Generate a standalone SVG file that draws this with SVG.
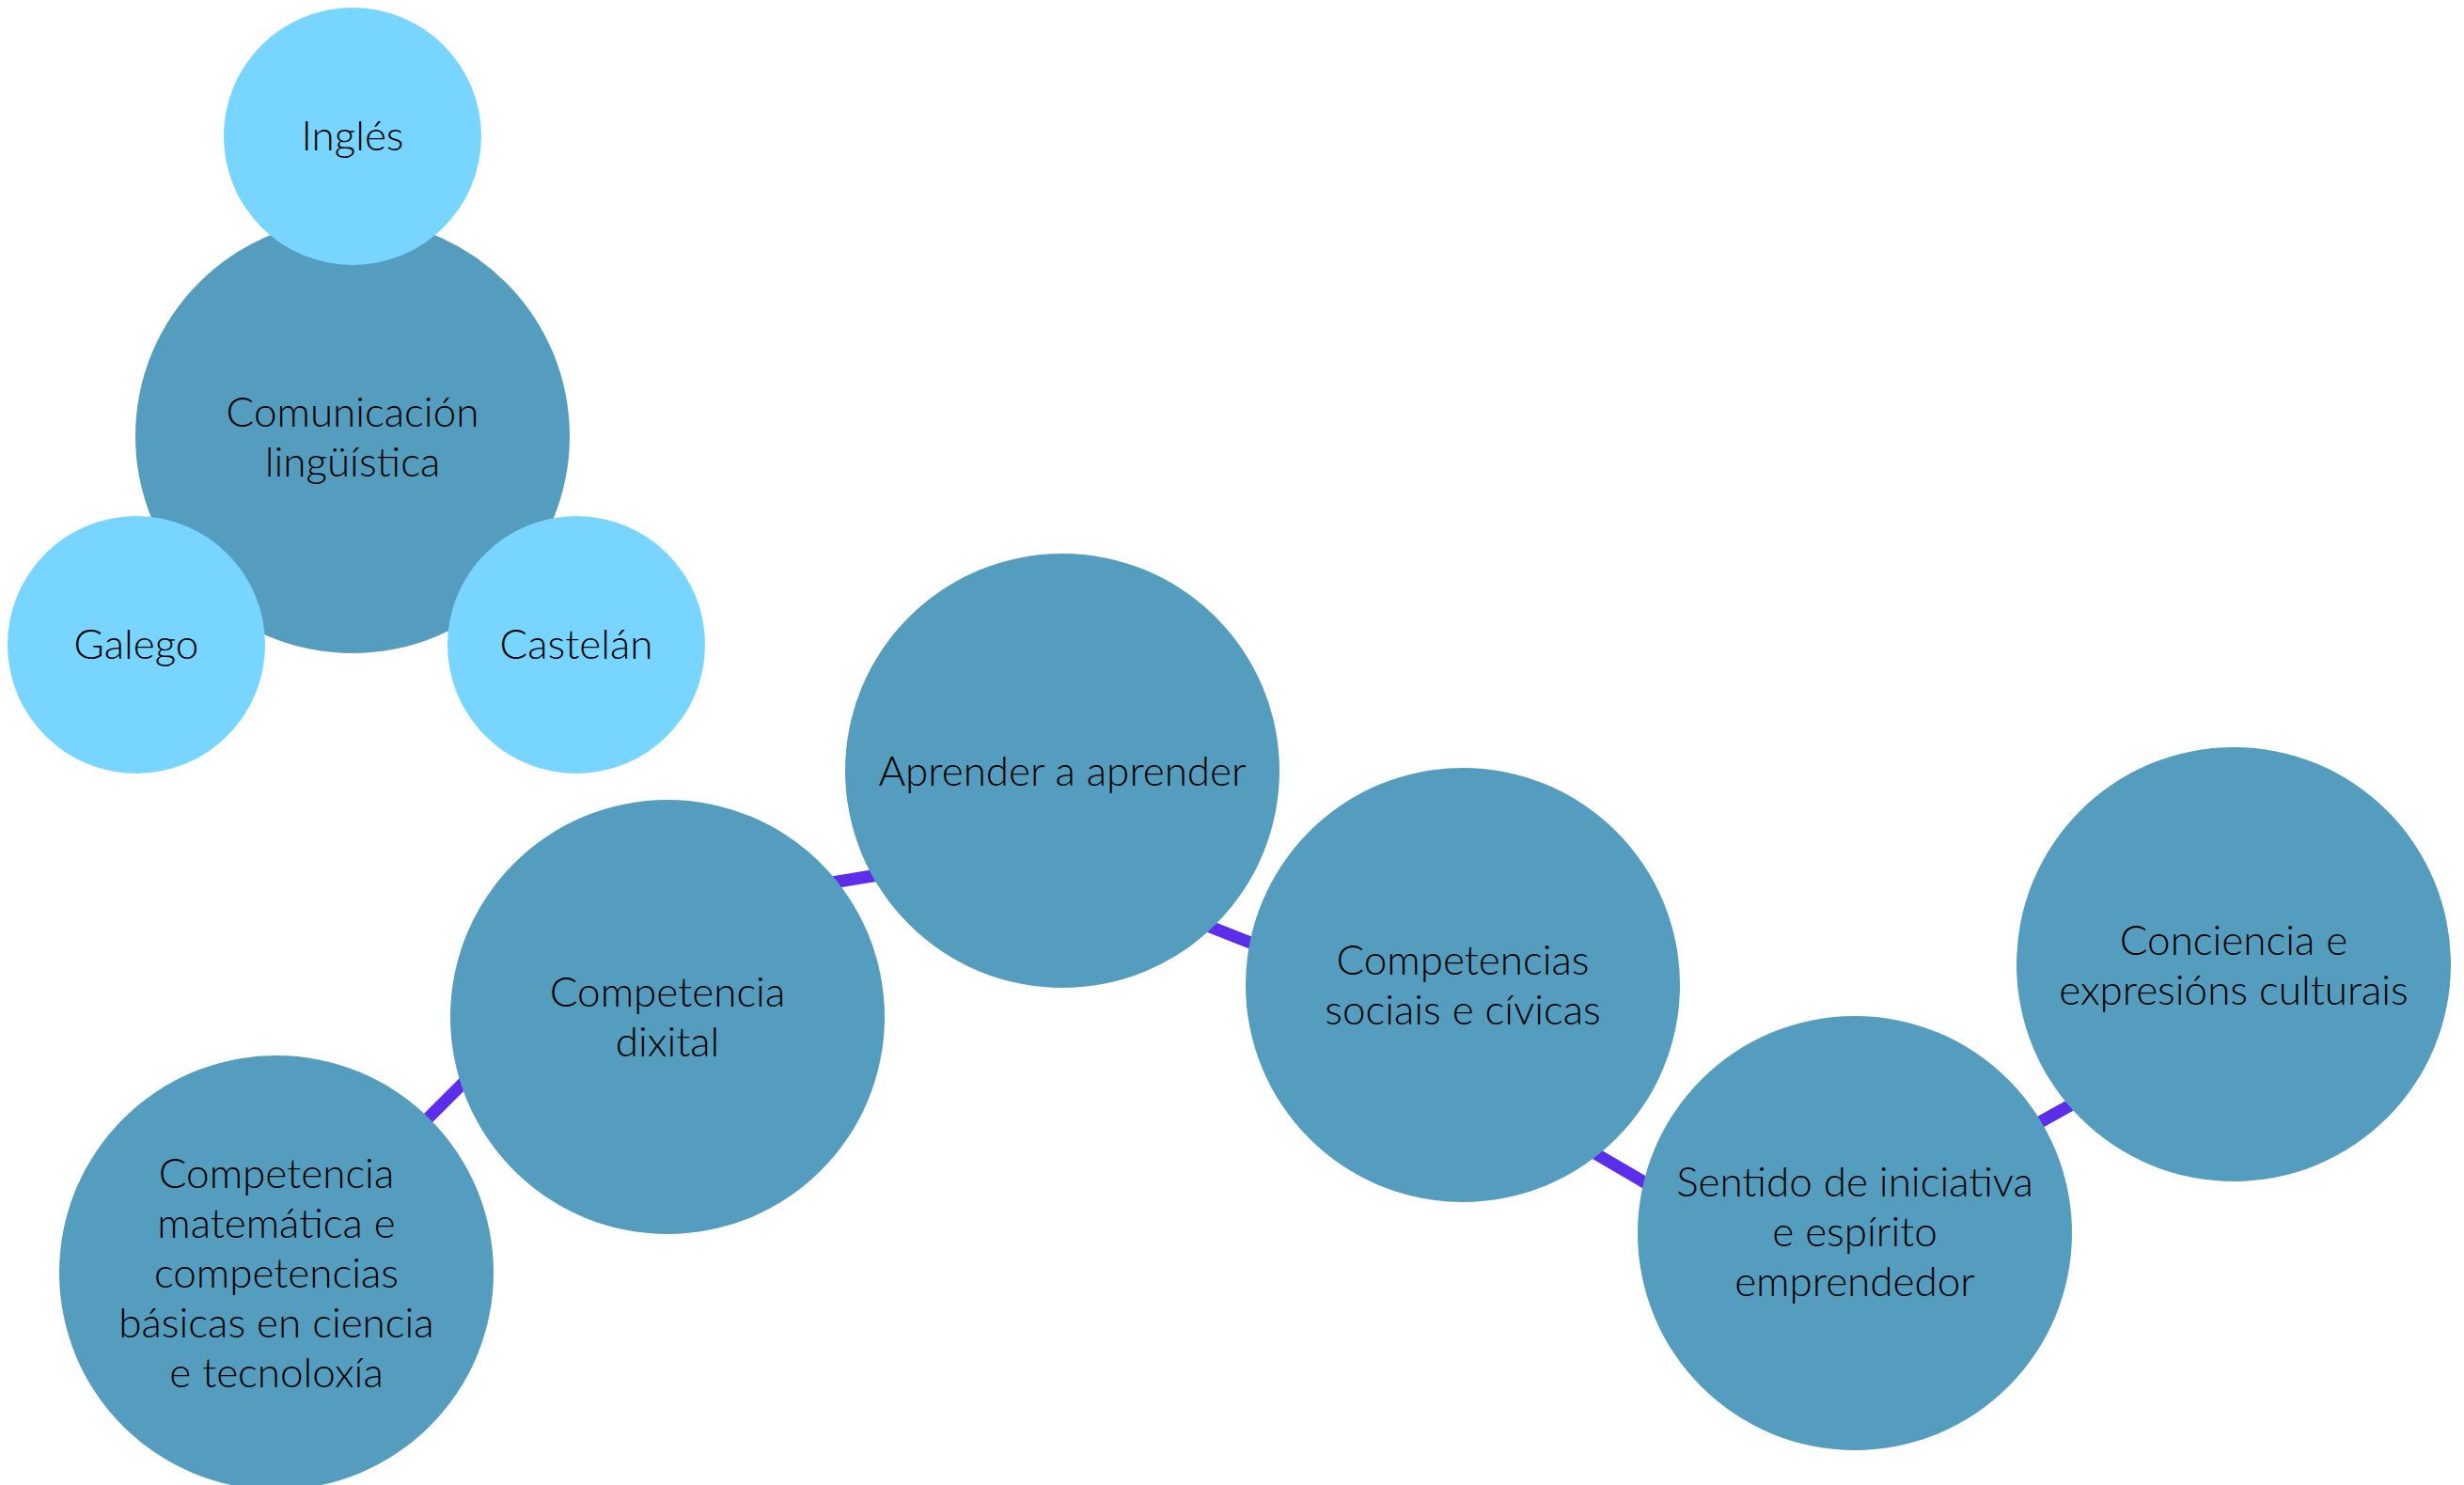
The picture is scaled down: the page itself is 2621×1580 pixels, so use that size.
<svg xmlns="http://www.w3.org/2000/svg" width="2621" height="1580" viewBox="0 0 2621 1580">
<style>
.main{fill:#559DBF}
.sub{fill:#77D5FF}
.conn{stroke:#5D2EEA;stroke-width:13;fill:none}
text{font-family:"Gill Sans","Gill Sans MT",Lato,"Open Sans","Liberation Sans",sans-serif;font-weight:300;font-size:44px;fill:#000;text-anchor:middle}
</style>
<rect width="2621" height="1580" fill="#fff"/>
<g id="connectors">
<line class="conn" x1="867" y1="942" x2="952" y2="928"/>
<line class="conn" x1="1267" y1="978" x2="1353" y2="1012"/>
<line class="conn" x1="1676" y1="1215" x2="1770" y2="1270"/>
<line class="conn" x1="2150" y1="1205" x2="2222" y2="1165"/>
<line class="conn" x1="439" y1="1206" x2="506" y2="1139"/>
</g>
<g id="comunicacion">
<circle class="main" cx="375" cy="464" r="231"/>
<text x="375" y="454">Comunicación</text>
<text x="375" y="507">lingüística</text>
</g>
<g id="ingles">
<circle class="sub" cx="375" cy="145" r="137"/>
<text x="375" y="160">Inglés</text>
</g>
<g id="galego">
<circle class="sub" cx="145" cy="686" r="137"/>
<text x="145" y="701">Galego</text>
</g>
<g id="castelan">
<circle class="sub" cx="613" cy="686" r="137"/>
<text x="613" y="701">Castelán</text>
</g>
<g id="aprender">
<circle class="main" cx="1130" cy="820" r="231"/>
<text x="1130" y="836">Aprender a aprender</text>
</g>
<g id="dixital">
<circle class="main" cx="710" cy="1082" r="231"/>
<text x="710" y="1071">Competencia</text>
<text x="710" y="1124">dixital</text>
</g>
<g id="matematica">
<circle class="main" cx="294" cy="1354" r="231"/>
<text x="294" y="1264">Competencia</text>
<text x="294" y="1317">matemática e</text>
<text x="294" y="1370">competencias</text>
<text x="294" y="1423">básicas en ciencia</text>
<text x="294" y="1476">e tecnoloxía</text>
</g>
<g id="sociais">
<circle class="main" cx="1556" cy="1048" r="231"/>
<text x="1556" y="1037">Competencias</text>
<text x="1556" y="1090">sociais e cívicas</text>
</g>
<g id="sentido">
<circle class="main" cx="1973" cy="1312" r="231"/>
<text x="1973" y="1273">Sentido de iniciativa</text>
<text x="1973" y="1326">e espírito</text>
<text x="1973" y="1379">emprendedor</text>
</g>
<g id="conciencia">
<circle class="main" cx="2376" cy="1026" r="231"/>
<text x="2376" y="1016">Conciencia e</text>
<text x="2376" y="1069">expresións culturais</text>
</g>
</svg>
